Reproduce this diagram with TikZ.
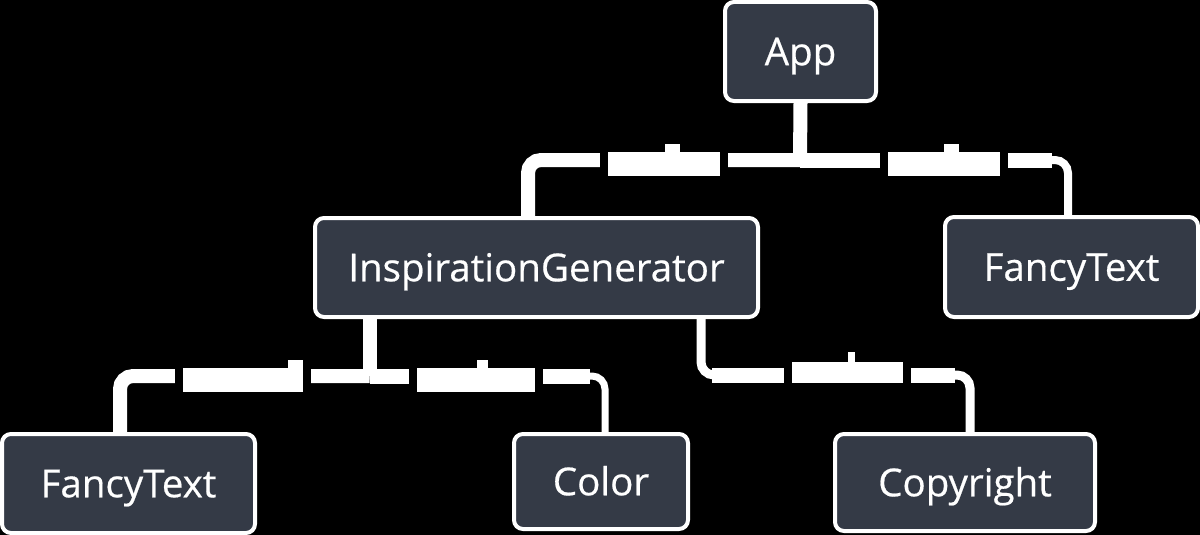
\documentclass[tikz,border=0pt]{standalone}
\usepackage{fontspec}
\setmainfont{Open Sans}
\newfontfamily\boxfont{Open Sans}[FakeBold=0.5]
\definecolor{boxc}{HTML}{343A46}
\begin{document}
\begin{tikzpicture}[x=1pt,y=-1pt,
  box/.style={draw=white, line width=4pt, fill=boxc, rounded corners=9pt,
    text=white, font=\boxfont\fontsize{38.5}{40}\selectfont, inner sep=0pt,
    text height=27.5pt, text depth=0pt},
  conn/.style={draw=white, line width=14pt, rounded corners=13pt},
  thinconn/.style={conn, line width=8pt},
  bar/.style={draw=white, line width=15pt},
  lbl/.style={fill=white, draw=none, inner sep=0pt,
    preaction={draw=black, line width=16pt}},
  bump/.style={fill=white, draw=none, inner sep=0pt}]
\fill[black] (0,0) rectangle (1200,535);
\useasboundingbox (0,0) rectangle (1200,535);

% boxes
\node[box, minimum width=151pt, minimum height=99pt] (app) at (800.5,51.5) {App};
\node[box, minimum width=443pt, minimum height=99pt] (ig) at (536.5,267.5) {InspirationGenerator};
\node[box, minimum width=253pt, minimum height=100pt] (ftr) at (1071.5,267) {FancyText};
\node[box, minimum width=253pt, minimum height=99pt] (ftl) at (128.5,483.5) {FancyText};
\node[box, minimum width=174pt, minimum height=95pt] (color) at (601,481.5) {Color};
\node[box, minimum width=260pt, minimum height=97pt] (copy) at (965,482.5) {Copyright};

% connectors
\coordinate (tj) at (800,160);
\coordinate (tr) at (1052,160);
\coordinate (bj) at (369.5,376);
\coordinate (bc) at (590,376);
\coordinate (rj) at (701,375);
\coordinate (rs) at (712,375);
\coordinate (re) at (955,375);
\draw[conn] (app.south) -- (tj);
\draw[conn] (tj) -| ([xshift=-8.5pt]ig.north);
\draw[thinconn] (tj) -| ([xshift=-3.5pt]ftr.north);
\draw[bar] (tj) -- (tr);
\draw[conn] ([xshift=-167pt]ig.south) -- (bj);
\draw[conn] (bj) -| ([xshift=-8.5pt]ftl.north);
\draw[thinconn, line width=7pt] (bj) -| ([xshift=4pt]color.north);
\draw[bar] (bj) -- (bc);
\draw[thinconn, line width=9pt] ([xshift=164.5pt]ig.south) -- (rj) -| ([xshift=5pt]copy.north);
\draw[bar] (rs) -- (re);

% label blocks
\node[lbl, minimum width=112pt, minimum height=24pt] (l1) at (664,164) {};
\node[bump, minimum width=15pt, minimum height=8pt] (b1) at (672.5,148) {};
\node[lbl, minimum width=112pt, minimum height=24pt] (l2) at (944,164) {};
\node[bump, minimum width=15pt, minimum height=8pt] (b2) at (951.5,148) {};
\node[lbl, minimum width=120pt, minimum height=24pt] (l3) at (243,380) {};
\node[bump, minimum width=15pt, minimum height=8pt] (b3) at (295.5,364) {};
\node[lbl, minimum width=118pt, minimum height=24pt] (l4) at (476,380) {};
\node[bump, minimum width=11pt, minimum height=8pt] (b4) at (482.5,364) {};
\node[lbl, minimum width=111pt, minimum height=21pt] (l5) at (847.5,372.5) {};
\node[bump, minimum width=7pt, minimum height=10pt] (b5) at (851.5,357) {};
\end{tikzpicture}
\end{document}
